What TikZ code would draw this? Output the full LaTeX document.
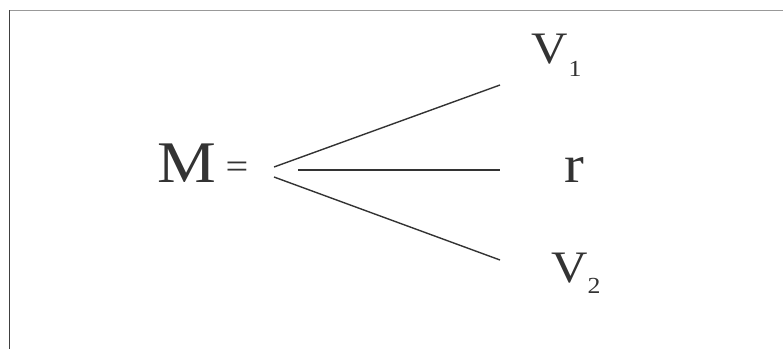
\documentclass[tikz,border=0pt]{standalone}
\usepackage{graphicx}
\usepackage{fontspec}
\setmainfont{Liberation Serif}
\newcommand{\lbltext}[2]{\scalebox{1.12}[1]{\fontsize{#1}{#1}\selectfont #2}}
\begin{document}
\begin{tikzpicture}[x=1pt, y=-1pt,
    lbl/.style={inner sep=0pt, text=black!80},
    branch/.style={line width=1.4pt, draw=black!80}]
    \useasboundingbox (0,0) rectangle (783,349);
    % frame
    \draw[black!40, line width=1pt] (783,10) -- (9.5,10);
    \draw[black!75, line width=1.6pt] (9.5,10) -- (9.5,349);
    % left side
    \node[lbl, anchor=base west] (M) at (157,182) {\lbltext{59}{M}};
    \node[lbl] (eq) at (237,170.5) {\lbltext{36}{=}};
    % right side
    \node[lbl, anchor=base west] (v1) at (531,63)
        {\lbltext{45}{V\kern1pt\raisebox{-13pt}{\fontsize{23}{23}\selectfont 1}}};
    \node[lbl, anchor=base west] (r) at (564,182) {\lbltext{53}{r}};
    \node[lbl, anchor=base west] (v2) at (551,282)
        {\lbltext{45}{V\raisebox{-11pt}{\fontsize{23}{23}\selectfont 2}}};
    % line ends
    \coordinate (up0) at (274,167);
    \coordinate (up1) at (500,85);
    \coordinate (mid0) at (298,170);
    \coordinate (mid1) at (500,170);
    \coordinate (lo0) at (274,177);
    \coordinate (lo1) at (500,260);
    % lines
    \draw[branch] (up0) -- (up1);
    \draw[branch] (mid0) -- (mid1);
    \draw[branch] (lo0) -- (lo1);
\end{tikzpicture}
\end{document}
